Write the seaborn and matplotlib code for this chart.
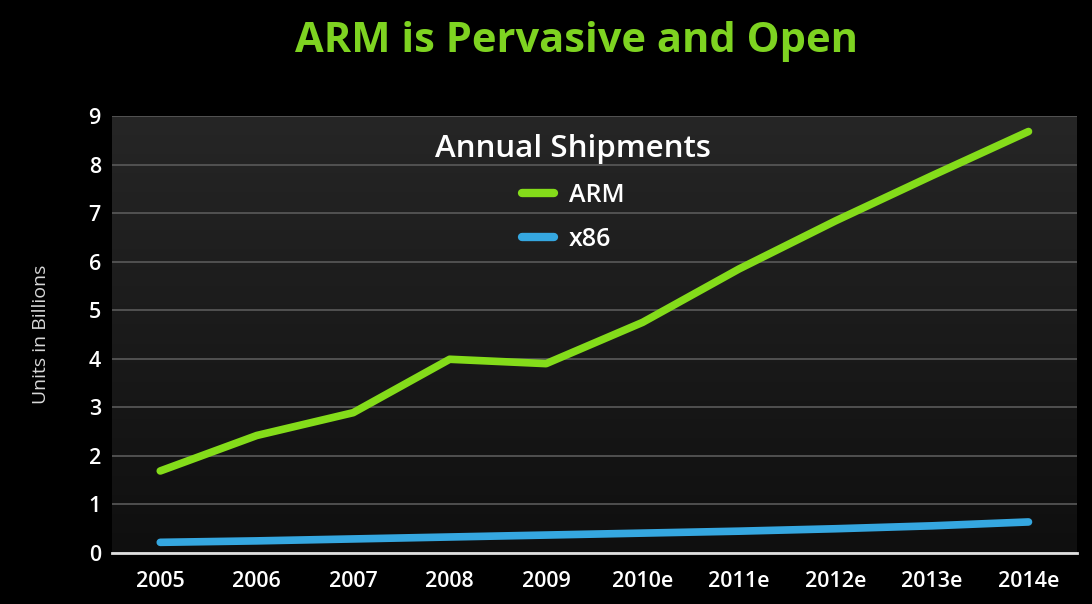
import numpy as np
import pandas as pd
import matplotlib.pyplot as plt
import seaborn as sns

# Values
years = ['2005', '2006', '2007', '2008', '2009', '2010e', '2011e', '2012e', '2013e', '2014e']
arm = [1.69, 2.42, 2.89, 3.99, 3.90, 4.75, 5.85, 6.84, 7.77, 8.68]
x86 = [0.22, 0.25, 0.29, 0.33, 0.37, 0.41, 0.45, 0.50, 0.56, 0.64]

df = pd.DataFrame({
    'Year': years * 2,
    'Units': arm + x86,
    'Series': ['ARM'] * len(years) + ['x86'] * len(years),
})

sns.set_style('dark')
plt.rcParams['font.family'] = ['Open Sans', 'DejaVu Sans']

fig = plt.figure(figsize=(10.92, 6.04), dpi=100, facecolor='black')
ax = fig.add_axes([0.1026, 0.0844, 0.8834, 0.7236])

# dark gradient background in the plot area
grad = np.linspace(0, 1, 256).reshape(-1, 1)
ax.imshow(grad, extent=[0, 1, 0, 1], transform=ax.transAxes, aspect='auto',
          cmap=sns.blend_palette(['#0f0f0f', '#262626'], as_cmap=True),
          origin='lower', zorder=0)

sns.lineplot(data=df, x='Year', y='Units', hue='Series', sort=False,
             palette={'ARM': '#84dc1a', 'x86': '#35a7e0'},
             linewidth=5.5, ax=ax, zorder=3)
for line in ax.get_lines():
    line.set_solid_capstyle('round')

ax.set_xlim(-0.5, 9.5)
ax.set_ylim(0, 9)
ax.set_yticks(range(10))
ax.grid(axis='y', color='#5a5a5a', linewidth=1.2)
ax.grid(axis='x', visible=False)
ax.set_axisbelow(True)
for s in ['top', 'right', 'left']:
    ax.spines[s].set_visible(False)
ax.spines['bottom'].set_color('#e0e0e0')
ax.spines['bottom'].set_linewidth(2)

ax.tick_params(axis='both', colors='white', labelsize=15.5, length=0)
ax.tick_params(axis='x', pad=13)
ax.tick_params(axis='y', pad=8)
for lab in ax.get_xticklabels() + ax.get_yticklabels():
    lab.set_fontweight('semibold')
ax.set_xlabel('')
ax.set_ylabel('Units in Billions', color='#d8d8d8', fontsize=14, labelpad=28)

handles, labels = ax.get_legend_handles_labels()
for h in handles:
    h.set_solid_capstyle('round')
    h.set_linewidth(6)
leg = ax.legend(handles, labels, title='Annual Shipments', loc='upper center',
                bbox_to_anchor=(0.478, 1.01), frameon=False, fontsize=18,
                title_fontsize=22.5, handlelength=1.3, handletextpad=0.6,
                labelspacing=0.75)
leg.get_title().set_color('white')
leg.get_title().set_fontweight('semibold')
for t in leg.get_texts():
    t.set_color('white')
    t.set_fontweight('semibold')

fig.suptitle('ARM is Pervasive and Open', color='#7ed321', fontsize=30,
             fontweight='bold', x=0.528, y=0.965)

fig.savefig('out.png', dpi=100, facecolor='black')
